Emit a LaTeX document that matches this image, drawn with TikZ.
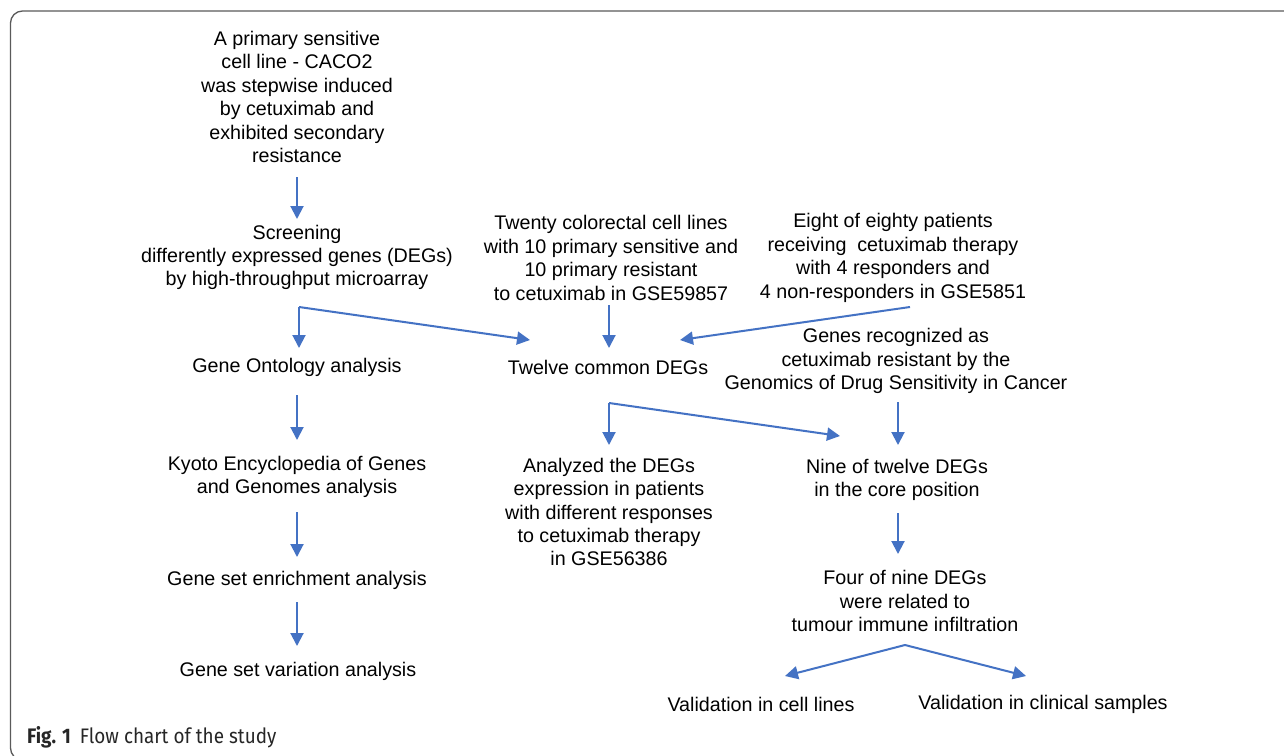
\documentclass[tikz,border=0pt]{standalone}
\usepackage{fontspec}
\setmainfont{Liberation Sans}
\newfontfamily\capfont[FakeStretch=0.9]{Fira Sans}
\usetikzlibrary{arrows.meta}
\definecolor{arrowblue}{HTML}{4472C4}
\definecolor{framegray}{HTML}{5A5A5A}
\newcommand{\fs}{\fontsize{19.7}{23.4}\selectfont}
\tikzset{
  lbl/.style={font=\fs, align=center, inner sep=0pt, text=black},
  arr/.style={draw=arrowblue, line width=2pt, -{Triangle[length=13pt,width=13pt]}},
  ln/.style={draw=arrowblue, line width=2pt},
}
\begin{document}
\begin{tikzpicture}[x=1pt,y=-1pt]
\useasboundingbox (0,0) rectangle (1284,755);
\fill[white] (0,0) rectangle (1284,755);
\draw[framegray, line width=1.3pt, rounded corners=12pt] (10.5,11) rectangle (1330,760);

% nodes
\node[lbl] (n1) at (297,97) {A primary sensitive\\ cell line - CACO2\\was stepwise induced\\by cetuximab and\\exhibited secondary\\resistance};
\node[lbl] (n2) at (297,257.5) {Screening\\differently expressed genes (DEGs)\\by high-throughput microarray};
\node[lbl] (n3) at (611,258) {Twenty colorectal cell lines\\with 10 primary sensitive and\\10 primary resistant\\to cetuximab in GSE59857};
\node[lbl] (n4) at (893,258) {Eight of eighty patients\\receiving\ \ cetuximab therapy\\with 4 responders and\\4 non-responders in GSE5851};
\node[lbl] (go) at (297,367) {Gene Ontology analysis};
\node[lbl] (tw) at (608,367) {Twelve common DEGs};
\node[lbl] (gr) at (896,361) {Genes recognized as\\cetuximab resistant by the\\Genomics of Drug Sensitivity in Cancer};
\node[lbl] (kg) at (297,477) {Kyoto Encyclopedia of Genes\\and Genomes analysis};
\node[lbl] (an) at (609,512) {Analyzed the DEGs\\expression in patients\\with different responses\\to cetuximab therapy\\in GSE56386};
\node[lbl] (nn) at (897,480) {Nine of twelve DEGs\\ in the core position};
\node[lbl] (ge) at (297,580) {Gene set enrichment analysis};
\node[lbl] (fo) at (905,601) {Four of nine DEGs\\were related to\\tumour immune infiltration};
\node[lbl] (gv) at (298,671) {Gene set variation analysis};
\node[lbl] (vc) at (761,704) {Validation in cell lines};
\node[lbl] (vs) at (1043,704) {Validation in clinical samples};
\node[inner sep=0pt, anchor=base west, font=\capfont\fontsize{21}{24}\selectfont, text=black!85] (cap) at (27,743) {{\bfseries Fig. 1}\hspace{9pt}Flow chart of the study};

% connector points
\coordinate (a1s) at (297,177); \coordinate (a1e) at (297,219);
\coordinate (b2) at (299,307); \coordinate (b2d) at (299,348); \coordinate (b2r) at (530,340);
\coordinate (a3s) at (609,305); \coordinate (a3e) at (609,348);
\coordinate (a4s) at (910,307); \coordinate (a4e) at (680,340);
\coordinate (a5s) at (297,395); \coordinate (a5e) at (297,440);
\coordinate (a6s) at (297,512); \coordinate (a6e) at (297,557);
\coordinate (a7s) at (297,602); \coordinate (a7e) at (297,646);
\coordinate (b8) at (609,403); \coordinate (b8d) at (609,445); \coordinate (b8r) at (840,436);
\coordinate (a9s) at (898,402); \coordinate (a9e) at (898,445);
\coordinate (a10s) at (898,513); \coordinate (a10e) at (898,554);
\coordinate (b11) at (905,645); \coordinate (b11l) at (785,676); \coordinate (b11r) at (1026,676);

\draw[arr] (a1s) -- (a1e);
\draw[arr] (b2) -- (b2d);
\draw[arr] (b2) -- (b2r);
\draw[arr] (a3s) -- (a3e);
\draw[arr] (a4s) -- (a4e);
\draw[arr] (a5s) -- (a5e);
\draw[arr] (a6s) -- (a6e);
\draw[arr] (a7s) -- (a7e);
\draw[arr] (b8) -- (b8d);
\draw[arr] (b8) -- (b8r);
\draw[arr] (a9s) -- (a9e);
\draw[arr] (a10s) -- (a10e);
\draw[arr] (b11) -- (b11l);
\draw[arr] (b11) -- (b11r);
\end{tikzpicture}
\end{document}
